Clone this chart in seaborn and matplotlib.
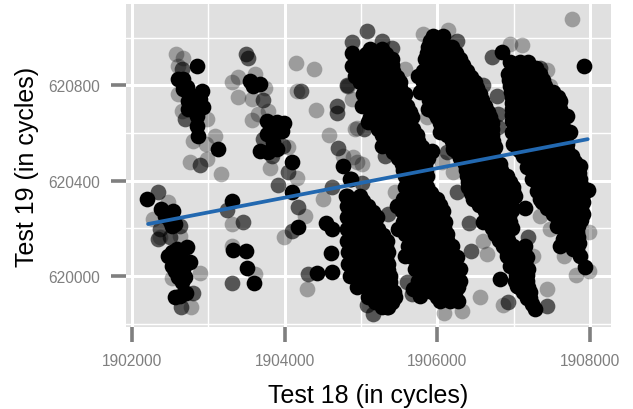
import matplotlib
matplotlib.use("Agg")
import matplotlib.pyplot as plt
import pandas as pd
import seaborn as sns

# dense bands, one y per row and the x values on that row
band1_y = [620952, 620930, 620910, 620885, 620861, 620836, 620812, 620787, 620763, 620738, 620714, 620690,
           620666, 620641, 620617, 620592, 620568, 620543, 620519, 620494, 620470]
band1_x = [
    [1905118, 1905271],
    [1905060, 1905210, 1905330],
    [1905009, 1905162, 1905315, 1905402],
    [1904990, 1905140, 1905290, 1905400],
    [1904965, 1905118, 1905271, 1905424],
    [1905040, 1905190, 1905340, 1905470],
    [1904987, 1905140, 1905293, 1905446, 1905511],
    [1905060, 1905210, 1905360, 1905510],
    [1905031, 1905184, 1905336, 1905489, 1905577],
    [1905100, 1905250, 1905400, 1905550],
    [1905052, 1905205, 1905358, 1905511, 1905598],
    [1905130, 1905280, 1905430, 1905590, 1905640],
    [1905118, 1905271, 1905424, 1905577, 1905664],
    [1905170, 1905330, 1905480, 1905630],
    [1905227, 1905380, 1905533, 1905686],
    [1905280, 1905430, 1905590, 1905730],
    [1905336, 1905489, 1905642, 1905751],
    [1905380, 1905540, 1905690, 1905800],
    [1905424, 1905577, 1905729, 1905839],
    [1905480, 1905630, 1905780, 1905880],
    [1905533, 1905686, 1905839],
]

band2_y = [620445, 620421, 620396, 620372, 620347, 620323, 620298, 620274, 620250, 620225, 620200, 620176,
           620150, 620127, 620102, 620078, 620053, 620029, 620004, 619980, 619955, 619931, 619913, 619896]
band2_x = [
    [1905550, 1905700, 1905850],
    [1905577, 1905729, 1905860],
    [1905650, 1905800],
    [1905577, 1905729, 1905860],
    [1905640, 1905790, 1905920],
    [1905555, 1905708, 1905860, 1905991],
    [1905610, 1905770, 1905920, 1906040],
    [1905533, 1905686, 1905839, 1905991, 1906079],
    [1905610, 1905770, 1905920, 1906050],
    [1905555, 1905708, 1905860, 1906013, 1906101],
    [1905640, 1905790, 1905950, 1906090],
    [1905577, 1905729, 1905882, 1906035, 1906122],
    [1905680, 1905830, 1905980, 1906130],
    [1905620, 1905773, 1905926, 1906079, 1906188],
    [1905720, 1905870, 1906020, 1906180],
    [1905664, 1905817, 1905970, 1906122, 1906253],
    [1905760, 1905910, 1906070, 1906220],
    [1905708, 1905860, 1906013, 1906166, 1906297],
    [1905810, 1905960, 1906110, 1906250],
    [1905751, 1905904, 1906057, 1906210, 1906297],
    [1905830, 1905980, 1906140, 1906270],
    [1905773, 1905926, 1906079, 1906232],
    [1906000, 1906120, 1906230],
    [1906035, 1906166, 1906275],
]

band3_y = [620337, 620316, 620295, 620270, 620246, 620222, 620197, 620172, 620148, 620123, 620099, 620075,
           620050, 620025, 620001, 619976, 619952, 619931, 619910, 619889, 619868]
band3_x = [
    [1904812, 1904987],
    [1904880, 1905030],
    [1904812, 1904965, 1905096],
    [1904890, 1905040, 1905160],
    [1904812, 1904965, 1905118, 1905205],
    [1904890, 1905040, 1905170],
    [1904812, 1904965, 1905118, 1905227],
    [1904890, 1905040, 1905190, 1905290],
    [1904812, 1904965, 1905118, 1905271, 1905336],
    [1904910, 1905060, 1905210, 1905330],
    [1904834, 1904987, 1905140, 1905293, 1905358],
    [1904910, 1905060, 1905210, 1905330],
    [1904834, 1904987, 1905140, 1905293, 1905358],
    [1904930, 1905080, 1905230, 1905350],
    [1904856, 1905009, 1905162, 1905315, 1905380],
    [1904960, 1905130, 1905280, 1905380],
    [1904943, 1905096, 1905249, 1905380],
    [1905170, 1905320, 1905430],
    [1905096, 1905249, 1905402, 1905446],
    [1905180, 1905320, 1905400],
    [1905271, 1905358],
]

band4_y = [621008, 620984, 620959, 620935, 620910, 620885, 620861, 620836, 620812, 620787, 620763, 620738,
           620714, 620690, 620666, 620641, 620617, 620592, 620568, 620543, 620519, 620494]
band4_x = [
    [1905948, 1906079],
    [1905910, 1906040],
    [1905882, 1906035, 1906188],
    [1905860, 1906010, 1906160, 1906250],
    [1905839, 1905991, 1906144, 1906297],
    [1905910, 1906070, 1906220, 1906340],
    [1905817, 1905970, 1906122, 1906275, 1906384],
    [1905890, 1906050, 1906200, 1906350, 1906440],
    [1905817, 1905970, 1906122, 1906275, 1906428, 1906494],
    [1905840, 1905990, 1906140, 1906300, 1906450, 1906520],
    [1905860, 1906013, 1906166, 1906319, 1906472, 1906559],
    [1905890, 1906040, 1906200, 1906350, 1906500, 1906590],
    [1905926, 1906079, 1906232, 1906384, 1906537, 1906625],
    [1905960, 1906110, 1906260, 1906420, 1906570, 1906660],
    [1905991, 1906144, 1906297, 1906450, 1906603, 1906690],
    [1906030, 1906190, 1906340, 1906490, 1906650, 1906710],
    [1906079, 1906232, 1906384, 1906537, 1906712],
    [1906130, 1906290, 1906440, 1906590, 1906720],
    [1906188, 1906341, 1906494, 1906646, 1906734],
    [1906220, 1906370, 1906530, 1906680, 1906760],
    [1906253, 1906406, 1906559, 1906712],
    [1906300, 1906450, 1906600, 1906740],
]

band5_y = [620470, 620445, 620421, 620396, 620372, 620347, 620323, 620298, 620274, 620250, 620225, 620200,
           620176, 620150, 620127, 620102, 620078, 620053, 620029, 620004, 619980, 619955, 619931, 619906, 619882]
band5_x = [
    [1906363, 1906515, 1906668, 1906821],
    [1906370, 1906520, 1906680, 1906830],
    [1906384, 1906537, 1906690, 1906843, 1906908],
    [1906400, 1906550, 1906700, 1906850, 1906950],
    [1906406, 1906559, 1906712, 1906865, 1906996],
    [1906440, 1906590, 1906750, 1906900, 1906980],
    [1906472, 1906625, 1906777, 1906930],
    [1906550, 1906700, 1906850, 1906960],
    [1906625, 1906777, 1906930],
    [1906660, 1906810, 1906940],
    [1906690, 1906843, 1906952],
    [1906720, 1906870, 1906980],
    [1906756, 1906908],
    [1906810, 1906930],
    [1906865, 1906996],
    [1906910, 1907040, 1907130],
    [1906952, 1907105, 1907171],
    [1907000, 1907150],
    [1907039, 1907192],
    [1907030, 1907180],
    [1907018, 1907171],
    [1907070, 1907190],
    [1907127, 1907214],
    [1907180, 1907220],
    [1907236],
]

band6_y = [620896, 620871, 620847, 620822, 620798, 620773, 620749, 620724, 620700, 620675, 620651, 620627,
           620603, 620578, 620554, 620530, 620505, 620480, 620456, 620432, 620407, 620382, 620358, 620333,
           620309, 620284, 620260, 620235, 620211, 620186, 620162, 620137, 620113]
band6_x = [
    [1906952, 1907083, 1907192],
    [1907010, 1907160, 1907290],
    [1906930, 1907083, 1907236, 1907345],
    [1906940, 1907090, 1907250, 1907380],
    [1906952, 1907105, 1907258, 1907411],
    [1906960, 1907120, 1907270, 1907420, 1907520],
    [1906974, 1907127, 1907280, 1907433, 1907585],
    [1906980, 1907130, 1907280, 1907440, 1907590],
    [1906974, 1907127, 1907280, 1907433, 1907607],
    [1906980, 1907130, 1907280, 1907440, 1907530, 1907620],
    [1906974, 1907127, 1907280, 1907433, 1907629],
    [1907050, 1907200, 1907360, 1907510, 1907640],
    [1906974, 1907127, 1907280, 1907433, 1907651],
    [1907050, 1907200, 1907360, 1907520, 1907670],
    [1906996, 1907149, 1907301, 1907454, 1907695],
    [1907070, 1907220, 1907380, 1907530, 1907700],
    [1907127, 1907280, 1907433, 1907585, 1907760],
    [1907200, 1907360, 1907510, 1907670, 1907800],
    [1907171, 1907323, 1907476, 1907629, 1907848],
    [1907250, 1907400, 1907550, 1907700, 1907850],
    [1907236, 1907389, 1907542, 1907695, 1907869],
    [1907320, 1907470, 1907620, 1907780, 1907880],
    [1907301, 1907454, 1907607, 1907760, 1907891],
    [1907380, 1907540, 1907690, 1907840, 1907900],
    [1907367, 1907520, 1907673, 1907826, 1907913],
    [1907440, 1907600, 1907750, 1907880],
    [1907520, 1907673, 1907826, 1907913],
    [1907590, 1907740, 1907880],
    [1907651, 1907804, 1907848],
    [1907700, 1907830],
    [1907738, 1907848],
    [1907780, 1907850],
    [1907826],
]

# black points outside the rows, band edges and the small clusters
solid_x = [1902847, 1902201, 1902380, 1902533, 1902564, 1902725, 1903131, 1902860, 1903581, 1903677,
           1903546, 1904092, 1904092, 1904179, 1903328, 1903489, 1903507, 1903594, 1904428, 1904625,
           1904603, 1904542, 1904616, 1904804, 1904865, 1904769, 1904878, 1903315, 1902520,
           1902673, 1902725, 1902651, 1902760, 1902847, 1902913, 1902826, 1902935, 1902738, 1902847, 1902847,
           1903765, 1903896, 1903996, 1903765, 1903896, 1903961, 1903852, 1903786, 1903896,
           1902476, 1902585, 1902564, 1902673, 1902564, 1902673, 1902607, 1902695, 1902629, 1902708,
           1907921, 1906843, 1905926, 1907149, 1906974, 1906996, 1906821, 1907935, 1907149, 1907607,
           1907978, 1907869, 1907607, 1907280, 1905336, 1904856, 1904987,
           1906821, 1906908, 1907083, 1907149, 1906952, 1907039, 1907149, 1906777, 1906603, 1906908, 1907018,
           1904921, 1904878, 1905009, 1905096, 1905271,
           1905751, 1905773, 1905882, 1906035, 1906210, 1907738, 1907695,
           1905467, 1905489, 1905577, 1905686, 1905773,
           1907345, 1907564, 1907651, 1907782, 1907869,
           1902607, 1902673, 1902891, 1902738, 1902826,
           1902520, 1902629, 1902760, 1902520, 1902651, 1902564, 1902432, 1902498, 1903677]
solid_y = [620880, 620322, 620281, 620273, 620218, 620123, 620534, 620589, 620796, 620806,
           620820, 620477, 620351, 620204, 620110, 620106, 620035, 619969, 620012, 620018,
           620096, 620222, 620197, 620334, 620407, 620463, 620934, 620316, 620211,
           620827, 620792, 620813, 620757, 620757, 620778, 620715, 620708, 620736, 620673, 620631,
           620652, 620645, 620642, 620596, 620603, 620610, 620561, 620522, 620533,
           620085, 620113, 620057, 620057, 620022, 620029, 619994, 619994, 619917, 619929,
           620881, 620941, 620526, 620285, 620278, 620358, 619987, 620036, 620127, 620127,
           620361, 620463, 620735, 619861, 619868, 620407, 620323,
           620155, 620085, 620057, 620001, 620043, 619959, 619945, 620197, 620225, 620379, 620337,
           620840, 620882, 620714, 620645, 620547,
           620840, 620770, 620700, 620603, 620533, 620603, 620673,
           620295, 620197, 620085, 619945, 619917,
           620323, 620211, 620155, 620113, 620085,
           620827, 620785, 620743, 620701, 620743,
           620099, 620085, 620057, 620043, 619973, 619910, 620253, 620232, 620526]

# points that overlap a few times, mid grey
mid_x = [1903489, 1903524, 1904214, 1904682, 1904682, 1904699, 1902341, 1902891, 1903240, 1903459,
         1903917, 1904616, 1902651, 1903315, 1904310, 1902795, 1902642, 1904092, 1904179, 1903721,
         1904048, 1904878, 1905083, 1905271, 1905402, 1906253, 1906712, 1907345, 1906786, 1906791,
         1906799, 1906253, 1906419, 1906437, 1907192, 1906930, 1905162, 1905074, 1905598, 1905664,
         1905315, 1905039, 1906122, 1904812, 1905018, 1905358, 1907441, 1906603,
         1902695, 1902629, 1902367, 1902345, 1902498, 1903721, 1903983, 1903830]
mid_y = [620931, 620913, 620775, 620712, 620684, 620537, 620351, 620466, 620277, 620228,
         620383, 620375, 620868, 619970, 620008, 619929, 619868, 620190, 620288, 620738,
         620435, 620980, 621028, 620987, 620955, 620987, 620917, 620873, 620754, 620680,
         620624, 620351, 620221, 620103, 620162, 619889, 619840, 619878, 619973, 619924,
         620505, 620617, 620519, 620801, 620389, 620260, 619875, 620801,
         620659, 620211, 620197, 620155, 620162, 620575, 620547, 620505]

# single faint points
faint_x = [1902577, 1902664, 1902607, 1903393, 1903315, 1903393, 1903612, 1903743, 1903568, 1903577,
           1903655, 1903786, 1904144, 1904389, 1904158, 1904406, 1904586, 1904878, 1904813, 1903088,
           1902804, 1902970, 1902760, 1902978, 1903166, 1903808, 1904048, 1904158, 1904267, 1903992,
           1904507, 1904297, 1902891, 1902769, 1902520, 1903306, 1903306, 1903612, 1902476, 1902367,
           1902629, 1902280, 1904922, 1904769, 1904944, 1902607, 1902651, 1902978,
           1907764, 1906136, 1905808, 1906952, 1907114, 1907433, 1907433, 1906559, 1906865, 1906087,
           1906319, 1907821, 1907991, 1907991, 1907660, 1907345, 1907476, 1907258, 1906603, 1906646,
           1904952, 1905009, 1904900, 1905577, 1904834, 1905446, 1906210, 1905860, 1906057, 1907476]
faint_y = [620931, 620913, 620882, 620750, 620813, 620836, 620847, 620787, 620743, 620656,
           620680, 620694, 620895, 620870, 620775, 620696, 620593, 620743, 620799, 620586,
           620568, 620554, 620477, 620491, 620427, 620453, 620543, 620411, 620250, 620165,
           620323, 619945, 620012, 619868, 619990, 620218, 620127, 620008, 620309, 620162,
           620169, 620239, 620617, 620505, 620477, 620764, 620694, 620659,
           621078, 621033, 621015, 620973, 620971, 620864, 619945, 619910, 619878, 619843,
           619854, 620004, 620022, 620183, 620085, 620253, 620197, 620085, 620148, 620092,
           620619, 620470, 620498, 620868, 620798, 620351, 620435, 620666, 620477, 620796]

# fitted line ends
fit_x = [1902210, 1907970]
fit_y = [620218, 620574]

x_major = [1902000, 1904000, 1906000, 1908000]
x_minor = [1903000, 1905000, 1907000]
y_major = [620000, 620400, 620800]
y_minor = [619800, 620200, 620600, 621000]

# expand the bands into plain x/y rows
rows = []
for ys, xs in [(band1_y, band1_x), (band2_y, band2_x), (band3_y, band3_x),
               (band4_y, band4_x), (band5_y, band5_x), (band6_y, band6_x)]:
    for y, row in zip(ys, xs):
        for x in row:
            rows.append((x, y))
df_solid = pd.DataFrame(rows, columns=["x", "y"])
df_solid = pd.concat([df_solid, pd.DataFrame({"x": solid_x, "y": solid_y})])
df_mid = pd.DataFrame({"x": mid_x, "y": mid_y})
df_faint = pd.DataFrame({"x": faint_x, "y": faint_y})
df_fit = pd.DataFrame({"x": fit_x, "y": fit_y})

sns.set_theme(style="darkgrid", rc={"axes.facecolor": "#E0E0E0", "grid.color": "white"})
plt.rcParams["font.family"] = ["Liberation Sans", "DejaVu Sans"]

fig, ax = plt.subplots(figsize=(6.33, 4.10), dpi=100)
fig.subplots_adjust(left=125.7 / 633, right=610.7 / 633, top=1 - 5 / 410, bottom=1 - 328 / 410)

size = 128
sns.scatterplot(data=df_faint, x="x", y="y", color="black", alpha=0.3, s=size, linewidth=0, ax=ax, zorder=3)
sns.scatterplot(data=df_mid, x="x", y="y", color="black", alpha=0.62, s=size, linewidth=0, ax=ax, zorder=4)
sns.scatterplot(data=df_solid, x="x", y="y", color="black", s=size, linewidth=0, ax=ax, zorder=5)
sns.lineplot(data=df_fit, x="x", y="y", color="#2268B0", linewidth=2.7, errorbar=None, ax=ax, zorder=6)

ax.set_xlim(1901917, 1908271)
ax.set_ylim(619786, 621141)

ax.set_xticks(x_major)
ax.set_xticks(x_minor, minor=True)
ax.set_yticks(y_major)
ax.set_yticks(y_minor, minor=True)
ax.set_xticklabels([str(v) for v in x_major])
ax.set_yticklabels([str(v) for v in y_major])

ax.set_axisbelow(True)
ax.grid(which="major", color="white", linewidth=2.2)
ax.grid(which="minor", color="white", linewidth=1.0)
ax.tick_params(which="major", length=10.5, width=2.6, color="#7F7F7F", labelcolor="#7F7F7F",
               labelsize=11.2, bottom=True, left=True)
ax.tick_params(axis="x", which="major", pad=8.5)
ax.tick_params(axis="y", which="major", pad=8)
ax.tick_params(which="minor", length=0)
for s in ax.spines.values():
    s.set_visible(False)

ax.set_xlabel("Test 18 (in cycles)", fontsize=18, color="black", labelpad=10.5)
ax.set_ylabel("Test 19 (in cycles)", fontsize=18, color="black", labelpad=7)

plt.savefig("out.png", dpi=100)
